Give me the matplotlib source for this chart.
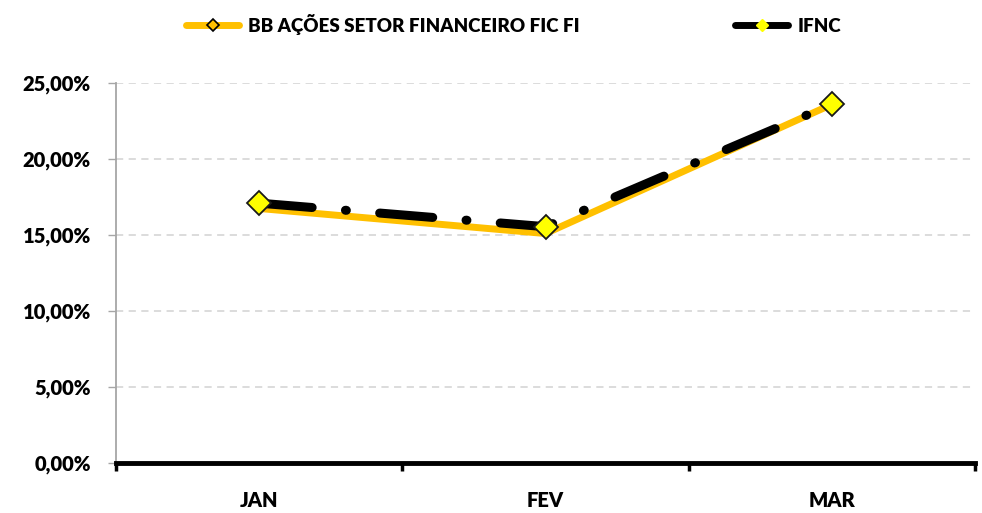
import matplotlib.pyplot as plt
from matplotlib.lines import Line2D
from matplotlib.ticker import FuncFormatter, FixedLocator

# dados
meses = ['JAN', 'FEV', 'MAR']
bb_fundo = [16.75, 15.10, 23.60]
ifnc = [17.10, 15.55, 23.60]
nome_fundo = 'BB AÇÕES SETOR FINANCEIRO FIC FI'
nome_indice = 'IFNC'

plt.rcParams['font.family'] = ['Lato', 'DejaVu Sans']
plt.rcParams['font.weight'] = 'heavy'

fig = plt.figure(figsize=(9.82, 5.13), dpi=100)
ax = fig.add_axes([0.118, 0.0975, 0.875, 0.7405])

x = list(range(len(meses)))
ax.plot(x, bb_fundo, color='#FFC000', lw=5, solid_capstyle='butt', zorder=3)
ax.plot(x, ifnc, color='black', lw=6.5, linestyle=(0, (5.9, 3.7, 0.1, 3.7)),
        dash_capstyle='round', zorder=4)
ax.plot(x, ifnc, linestyle='none', marker='D', markersize=12,
        markerfacecolor='#FFFF00', markeredgecolor='#1a1a1a', markeredgewidth=1.3, zorder=5)

ax.set_xlim(-0.5, 2.5)
ax.set_ylim(0, 25)
ax.yaxis.set_major_locator(FixedLocator([0, 5, 10, 15, 20, 25]))
ax.yaxis.set_major_formatter(FuncFormatter(lambda v, p: ('%.2f%%' % v).replace('.', ',')))
ax.grid(axis='y', color='#D9D9D9', linestyle=(0, (4, 3)), lw=1.3)
ax.set_axisbelow(True)

ax.set_xticks([-0.5, 0.5, 1.5, 2.5])
ax.set_xticklabels([])
ax.set_xticks(x, minor=True)
ax.set_xticklabels(meses, minor=True)
ax.tick_params(axis='x', which='major', direction='out', length=6, width=2.5, color='black')
ax.tick_params(axis='x', which='minor', length=0, pad=20, labelsize=14.5)
ax.tick_params(axis='y', direction='out', length=6, width=1, color='#A6A6A6', labelsize=14.5, pad=12)

for s in ['top', 'right']:
    ax.spines[s].set_visible(False)
ax.spines['left'].set_color('#A6A6A6')
ax.spines['left'].set_linewidth(1.3)
ax.spines['bottom'].set_color('black')
ax.spines['bottom'].set_linewidth(3.5)

handles = [
    Line2D([], [], color='#FFC000', lw=5, solid_capstyle='round', marker='D', markersize=6,
           markerfacecolor='#FFC000', markeredgecolor='black', markeredgewidth=1.2),
    Line2D([], [], color='black', lw=5, solid_capstyle='round', marker='D', markersize=6,
           markerfacecolor='#FFFF00', markeredgecolor='#FFFF00'),
]
fig.legend(handles, [nome_fundo, nome_indice], loc='upper center', ncol=2,
           bbox_to_anchor=(0.523, 1.006), frameon=False, handlelength=2.8,
           columnspacing=8.3, fontsize=13.5, handletextpad=0.5)

fig.savefig('out.png', dpi=100)
